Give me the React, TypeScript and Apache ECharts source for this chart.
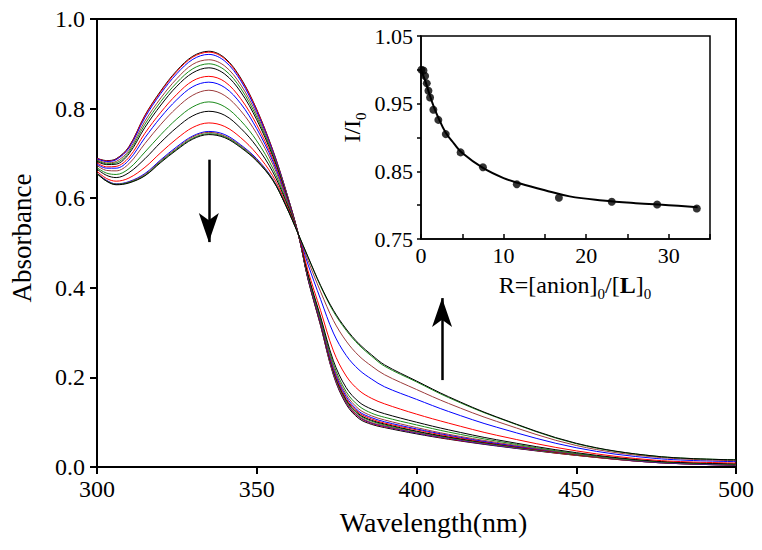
import React, { useEffect, useRef } from "react";
import * as echarts from "echarts";

// ---- Main panel: UV-vis spectra (absorbance vs wavelength) ----
const wavelengths = [300, 303, 306, 310, 315, 320, 325, 330, 335, 340, 345, 350, 355, 359, 363, 366, 370, 374, 378, 382, 386, 390, 400, 410, 425, 450, 475, 500];

const spectrum01 = [0.689, 0.684, 0.688, 0.715, 0.785, 0.840, 0.885, 0.917, 0.928, 0.913, 0.868, 0.798, 0.708, 0.620, 0.520, 0.420, 0.315, 0.205, 0.140, 0.108, 0.095, 0.088, 0.074, 0.062, 0.047, 0.026, 0.010, 0.004];
const spectrum02 = [0.689, 0.683, 0.687, 0.714, 0.784, 0.838, 0.883, 0.915, 0.926, 0.911, 0.866, 0.797, 0.707, 0.620, 0.520, 0.421, 0.316, 0.207, 0.143, 0.111, 0.097, 0.090, 0.076, 0.063, 0.048, 0.026, 0.010, 0.004];
const spectrum03 = [0.688, 0.682, 0.686, 0.712, 0.780, 0.834, 0.878, 0.910, 0.921, 0.906, 0.862, 0.793, 0.705, 0.619, 0.520, 0.421, 0.317, 0.208, 0.144, 0.112, 0.098, 0.091, 0.076, 0.064, 0.048, 0.027, 0.010, 0.004];
const spectrum04 = [0.686, 0.679, 0.682, 0.707, 0.772, 0.824, 0.867, 0.899, 0.909, 0.895, 0.853, 0.787, 0.701, 0.617, 0.520, 0.422, 0.318, 0.209, 0.145, 0.113, 0.099, 0.092, 0.077, 0.065, 0.049, 0.027, 0.010, 0.004];
const spectrum05 = [0.684, 0.677, 0.679, 0.703, 0.765, 0.816, 0.858, 0.889, 0.900, 0.886, 0.845, 0.781, 0.698, 0.615, 0.520, 0.422, 0.319, 0.212, 0.148, 0.116, 0.102, 0.094, 0.079, 0.066, 0.050, 0.027, 0.011, 0.005];
const spectrum06 = [0.682, 0.675, 0.676, 0.699, 0.758, 0.808, 0.850, 0.880, 0.891, 0.877, 0.837, 0.775, 0.694, 0.613, 0.520, 0.423, 0.320, 0.214, 0.150, 0.118, 0.104, 0.096, 0.080, 0.067, 0.051, 0.028, 0.011, 0.005];
const spectrum07 = [0.679, 0.670, 0.671, 0.691, 0.745, 0.792, 0.832, 0.862, 0.872, 0.860, 0.822, 0.764, 0.688, 0.610, 0.520, 0.424, 0.322, 0.217, 0.153, 0.121, 0.107, 0.098, 0.083, 0.069, 0.052, 0.028, 0.011, 0.005];
const spectrum08 = [0.676, 0.667, 0.667, 0.685, 0.735, 0.781, 0.820, 0.849, 0.859, 0.847, 0.811, 0.755, 0.683, 0.607, 0.520, 0.425, 0.324, 0.220, 0.157, 0.124, 0.110, 0.101, 0.085, 0.071, 0.053, 0.029, 0.011, 0.005];
const spectrum09 = [0.673, 0.662, 0.661, 0.677, 0.722, 0.765, 0.802, 0.830, 0.841, 0.829, 0.795, 0.744, 0.676, 0.604, 0.520, 0.427, 0.327, 0.224, 0.162, 0.129, 0.114, 0.105, 0.088, 0.073, 0.055, 0.029, 0.012, 0.006];
const spectrum10 = [0.668, 0.656, 0.653, 0.666, 0.703, 0.742, 0.777, 0.804, 0.815, 0.804, 0.773, 0.728, 0.667, 0.599, 0.520, 0.429, 0.330, 0.230, 0.168, 0.136, 0.120, 0.111, 0.094, 0.078, 0.058, 0.030, 0.012, 0.006];
const spectrum11 = [0.665, 0.651, 0.646, 0.657, 0.688, 0.725, 0.758, 0.784, 0.794, 0.785, 0.756, 0.715, 0.659, 0.595, 0.520, 0.431, 0.335, 0.237, 0.177, 0.145, 0.129, 0.119, 0.100, 0.083, 0.061, 0.032, 0.013, 0.007];
const spectrum12 = [0.660, 0.644, 0.638, 0.645, 0.669, 0.702, 0.733, 0.758, 0.768, 0.760, 0.735, 0.699, 0.650, 0.590, 0.520, 0.439, 0.349, 0.259, 0.203, 0.171, 0.153, 0.141, 0.118, 0.098, 0.071, 0.036, 0.015, 0.009];
const spectrum13 = [0.656, 0.640, 0.632, 0.637, 0.655, 0.686, 0.715, 0.739, 0.749, 0.742, 0.719, 0.688, 0.643, 0.586, 0.520, 0.453, 0.374, 0.299, 0.249, 0.217, 0.196, 0.179, 0.151, 0.124, 0.089, 0.043, 0.019, 0.012];
const spectrum14 = [0.656, 0.639, 0.631, 0.636, 0.653, 0.684, 0.712, 0.737, 0.747, 0.739, 0.717, 0.686, 0.642, 0.586, 0.520, 0.462, 0.391, 0.327, 0.281, 0.248, 0.225, 0.206, 0.173, 0.142, 0.102, 0.048, 0.022, 0.014];
const spectrum15 = [0.655, 0.638, 0.631, 0.635, 0.651, 0.682, 0.710, 0.734, 0.744, 0.737, 0.715, 0.684, 0.641, 0.585, 0.520, 0.469, 0.403, 0.347, 0.305, 0.272, 0.247, 0.225, 0.190, 0.155, 0.111, 0.052, 0.024, 0.016];
const spectrum16 = [0.655, 0.638, 0.630, 0.634, 0.650, 0.680, 0.708, 0.732, 0.742, 0.735, 0.713, 0.683, 0.640, 0.585, 0.520, 0.470, 0.405, 0.350, 0.308, 0.275, 0.250, 0.228, 0.192, 0.157, 0.112, 0.053, 0.024, 0.016];

const spectra = [
  spectrum01, spectrum02, spectrum03, spectrum04, spectrum05, spectrum06, spectrum07, spectrum08,
  spectrum09, spectrum10, spectrum11, spectrum12, spectrum13, spectrum14, spectrum15, spectrum16,
];
const spectrumColors = ["#000000", "#ff0000", "#0000ff", "#9c3c3c", "#1a8a1a"];

// arrows (annotation, data coordinates: [wavelength, absorbance])
const downArrow = { x: 335, from: 0.686, to: 0.502 };
const upArrow = { x: 408, from: 0.194, to: 0.377 };

// ---- Inset: I/I0 vs R ----
const ratioR = [0.05, 0.3, 0.5, 0.7, 0.9, 1.1, 1.5, 2.1, 3.0, 4.8, 7.5, 11.6, 16.7, 23.1, 28.6, 33.4];
const intensityRatio = [1.0, 0.999, 0.991, 0.98, 0.969, 0.959, 0.941, 0.926, 0.905, 0.878, 0.856, 0.831, 0.811, 0.805, 0.801, 0.795];
const fitR = [0, 0.5, 1, 1.5, 2, 3, 4, 5, 7.5, 10, 12, 15, 18, 22, 26, 30, 33.5];
const fitI = [1.0, 0.984, 0.965, 0.947, 0.932, 0.907, 0.891, 0.877, 0.855, 0.840, 0.832, 0.822, 0.813, 0.807, 0.803, 0.800, 0.797];

const FONT = "'Liberation Serif', 'Times New Roman', serif";

export default function App() {
  const ref = useRef<HTMLDivElement>(null);

  useEffect(() => {
    if (!ref.current) return;
    const chart = echarts.init(ref.current, null, { renderer: "svg" });

    const spectraSeries: any[] = spectra.map((vals, k) => ({
      type: "line",
      xAxisIndex: 0,
      yAxisIndex: 0,
      data: wavelengths.map((w, i) => [w, vals[i]]),
      showSymbol: false,
      smooth: 0.35,
      silent: true,
      color: spectrumColors[k % spectrumColors.length],
      lineStyle: { width: 1, color: spectrumColors[k % spectrumColors.length] },
      z: 2,
    }));

    spectraSeries[spectraSeries.length - 1].markLine = {
      silent: true,
      symbol: ["none", "arrow"],
      symbolSize: [15, 29],
      label: { show: false },
      lineStyle: { color: "#000", width: 2.5, type: "solid" },
      emphasis: { disabled: true },
      data: [
        [{ coord: [downArrow.x, downArrow.from] }, { coord: [downArrow.x, downArrow.to] }],
        [{ coord: [upArrow.x, upArrow.from] }, { coord: [upArrow.x, upArrow.to] }],
      ],
    };

    const sub = {
      n: { fontSize: 24, fontFamily: FONT, color: "#000", lineHeight: 25, verticalAlign: "top" },
      b: { fontSize: 24, fontFamily: FONT, color: "#000", fontWeight: "bold", lineHeight: 25, verticalAlign: "top" },
      s: { fontSize: 15, fontFamily: FONT, color: "#000", lineHeight: 15, verticalAlign: "top", padding: [13, 0, 0, 0] },
    };

    const option: any = {
      animation: false,
      backgroundColor: "#ffffff",
      textStyle: { fontFamily: FONT },
      grid: [
        { left: 96, right: 26, top: 19, bottom: 83, show: true, borderColor: "#000", borderWidth: 2, backgroundColor: "transparent" },
        { left: 421, right: 52, top: 36, bottom: 311, show: true, borderColor: "#000", borderWidth: 1.5, backgroundColor: "#ffffff", z: 3 },
      ],
      xAxis: [
        {
          type: "value",
          gridIndex: 0,
          min: 300,
          max: 500,
          interval: 50,
          name: "Wavelength(nm)",
          nameLocation: "middle",
          nameGap: 41,
          nameTextStyle: { fontSize: 28, fontFamily: FONT, color: "#000", padding: [0, 0, 0, 34] },
          axisLine: { lineStyle: { color: "#000", width: 2 } },
          axisTick: { length: 7, lineStyle: { color: "#000", width: 2 } },
          axisLabel: { fontSize: 24, fontFamily: FONT, color: "#000", margin: 10 },
          splitLine: { show: false },
        },
        {
          type: "value",
          gridIndex: 1,
          min: 0,
          max: 35,
          interval: 5,
          name: "{n|R=[anion]}{s|0}{n|/[}{b|L}{n|]}{s|0}",
          nameLocation: "middle",
          nameGap: 34,
          nameTextStyle: { rich: sub, padding: [0, 0, 0, 19] },
          axisLine: { lineStyle: { color: "#000", width: 1.5 } },
          axisTick: { inside: true, length: 5, lineStyle: { color: "#000", width: 1.5 } },
          axisLabel: {
            fontSize: 22,
            fontFamily: FONT,
            color: "#000",
            margin: 5,
            formatter: (v: number) => (Math.round(v) % 10 === 0 ? String(Math.round(v)) : ""),
          },
          splitLine: { show: false },
          z: 4,
        },
      ],
      yAxis: [
        {
          type: "value",
          gridIndex: 0,
          min: 0,
          max: 1,
          interval: 0.2,
          name: "Absorbance",
          nameLocation: "middle",
          nameRotate: 90,
          nameGap: 62,
          nameTextStyle: { fontSize: 27, fontFamily: FONT, color: "#000", padding: [0, 0, 0, 10] },
          axisLine: { lineStyle: { color: "#000", width: 2 } },
          axisTick: { length: 7, lineStyle: { color: "#000", width: 2 } },
          axisLabel: { fontSize: 24, fontFamily: FONT, color: "#000", margin: 12, formatter: (v: number) => v.toFixed(1) },
          splitLine: { show: false },
        },
        {
          type: "value",
          gridIndex: 1,
          min: 0.75,
          max: 1.05,
          interval: 0.05,
          name: "{n|I/I}{s|0}",
          nameLocation: "middle",
          nameRotate: 90,
          nameGap: 56,
          nameTextStyle: { rich: sub, padding: [0, 0, 0, 20] },
          axisLine: { lineStyle: { color: "#000", width: 1.5 } },
          axisTick: { length: 4, lineStyle: { color: "#000", width: 1.5 } },
          axisLabel: {
            fontSize: 22,
            fontFamily: FONT,
            color: "#000",
            margin: 8,
            formatter: (v: number) => (Math.round(v * 100) % 10 === 5 ? v.toFixed(2) : ""),
          },
          splitLine: { show: false },
          z: 4,
        },
      ],
      series: [
        ...spectraSeries,
        {
          type: "line",
          xAxisIndex: 1,
          yAxisIndex: 1,
          data: fitR.map((r, i) => [r, fitI[i]]),
          showSymbol: false,
          smooth: 0.4,
          silent: true,
          color: "#000",
          lineStyle: { color: "#000", width: 2 },
          z: 5,
        },
        {
          type: "scatter",
          xAxisIndex: 1,
          yAxisIndex: 1,
          data: ratioR.map((r, i) => [r, intensityRatio[i]]),
          symbol: "circle",
          symbolSize: 8,
          silent: true,
          itemStyle: { color: "#000" },
          z: 6,
        },
      ],
    };

    chart.setOption(option);
    return () => chart.dispose();
  }, []);

  return <div ref={ref} style={{ position: "fixed", left: 0, top: 0, width: 762, height: 550 }} />;
}
